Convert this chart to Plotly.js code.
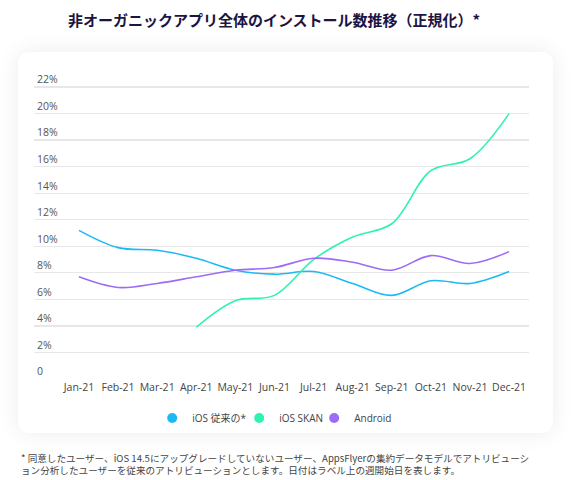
<!DOCTYPE html>
<html>
<head>
<meta charset="utf-8">
<script src="https://cdn.plot.ly/plotly-3.0.1.min.js"></script>
<style>
  html, body { margin: 0; padding: 0; background: #ffffff; width: 571px; height: 480px; overflow: hidden; }
  #card { position: absolute; left: 18px; top: 52px; width: 535px; height: 381px; background: #ffffff;
          border-radius: 11px; box-shadow: 0 0 22px rgba(0,0,0,0.08); }
  #chart { position: absolute; left: 0; top: 0; width: 571px; height: 480px; }
</style>
</head>
<body>
<div id="card"></div>
<div id="chart"></div>
<script>
const months = ["Jan-21","Feb-21","Mar-21","Apr-21","May-21","Jun-21","Jul-21","Aug-21","Sep-21","Oct-21","Nov-21","Dec-21"];
const iosLegacy = [11.2, 9.9, 9.7, 9.1, 8.2, 7.9, 8.1, 7.2, 6.3, 7.4, 7.2, 8.1];
const iosSkan   = [null, null, null, 3.9, 5.9, 6.3, 9.0, 10.7, 11.7, 15.7, 16.6, 20.0];
const android   = [7.7, 6.9, 7.2, 7.7, 8.2, 8.4, 9.1, 8.8, 8.2, 9.3, 8.7, 9.6];
const seriesNames = ["iOS 従来の*", "iOS SKAN", "Android"];
const seriesColors = ["#1bbaf7", "#2ef2b2", "#9d6bf6"];
const yTickVals = [0, 2, 4, 6, 8, 10, 12, 14, 16, 18, 20, 22];
const yTickText = ["0", "2%", "4%", "6%", "8%", "10%", "12%", "14%", "16%", "18%", "20%", "22%"];

const titleText = "非オーガニックアプリ全体のインストール数推移（正規化）*";
const footnote = "* 同意したユーザー、iOS 14.5にアップグレードしていないユーザー、AppsFlyerの集約データモデルでアトリビューシ<br>ョン分析したユーザーを従来のアトリビューションとします。日付はラベル上の週開始日を表します。";

const fontFam = "Open Sans, Noto Sans CJK JP, sans-serif";
const allSeries = [iosLegacy, iosSkan, android];
const legendIds = ["legend", "legend2", "legend3"];
const legendX = [0.2388, 0.4145, 0.566];

const traces = [];
allSeries.forEach((vals, i) => {
  traces.push({
    x: months, y: vals, type: "scatter", mode: "lines",
    name: seriesNames[i], showlegend: false, connectgaps: false,
    line: { color: seriesColors[i], width: 1.6, shape: "spline", smoothing: 1 },
    hoverinfo: "skip"
  });
});
allSeries.forEach((vals, i) => {
  traces.push({
    x: [null], y: [null], type: "scatter", mode: "markers",
    name: seriesNames[i], showlegend: true, legend: legendIds[i],
    marker: { color: seriesColors[i], size: 10, symbol: "circle" }
  });
});

const plotH = 480 - 68 - 101;
const legendY = -39 / plotH;
const footY = -84.5 / plotH;

const layout = {
  width: 571, height: 480,
  paper_bgcolor: "rgba(0,0,0,0)", plot_bgcolor: "rgba(0,0,0,0)",
  margin: { l: 34, r: 42, t: 68, b: 101 },
  font: { family: fontFam, color: "#444" },
  title: {
    text: titleText, x: 0.48, xanchor: "center", y: 0.956, yanchor: "middle",
    font: { family: "Noto Sans CJK JP, sans-serif", size: 15, color: "#1c1442", weight: "bold" }
  },
  xaxis: {
    type: "category", range: [-1.15, 11.51], showgrid: false, zeroline: false, showline: false,
    ticks: "", tickfont: { size: 10.5, color: "#444", family: fontFam }, fixedrange: true
  },
  yaxis: {
    range: [0, plotH / 13.27], tickmode: "array", tickvals: yTickVals, ticktext: yTickText,
    ticklabelposition: "inside top", showgrid: true, gridcolor: "#e7e7e7", gridwidth: 1.3,
    zeroline: false, showline: false, ticks: "",
    tickfont: { size: 10.5, color: "#555", family: fontFam }, fixedrange: true
  },
  annotations: [{
    text: footnote, xref: "paper", yref: "paper", x: -0.03, xanchor: "left",
    y: footY, yanchor: "middle", showarrow: false, align: "left",
    font: { size: 9.6, color: "#444", family: "Noto Sans CJK JP, sans-serif" }
  }]
};
legendIds.forEach((id, i) => {
  layout[id] = {
    orientation: "h", x: legendX[i], xanchor: "left", y: legendY, yanchor: "middle",
    font: { size: 10, color: "#444", family: fontFam }, itemwidth: 30,
    bgcolor: "rgba(0,0,0,0)"
  };
});

Plotly.newPlot("chart", traces, layout, { displayModeBar: false, staticPlot: true });
</script>
</body>
</html>
